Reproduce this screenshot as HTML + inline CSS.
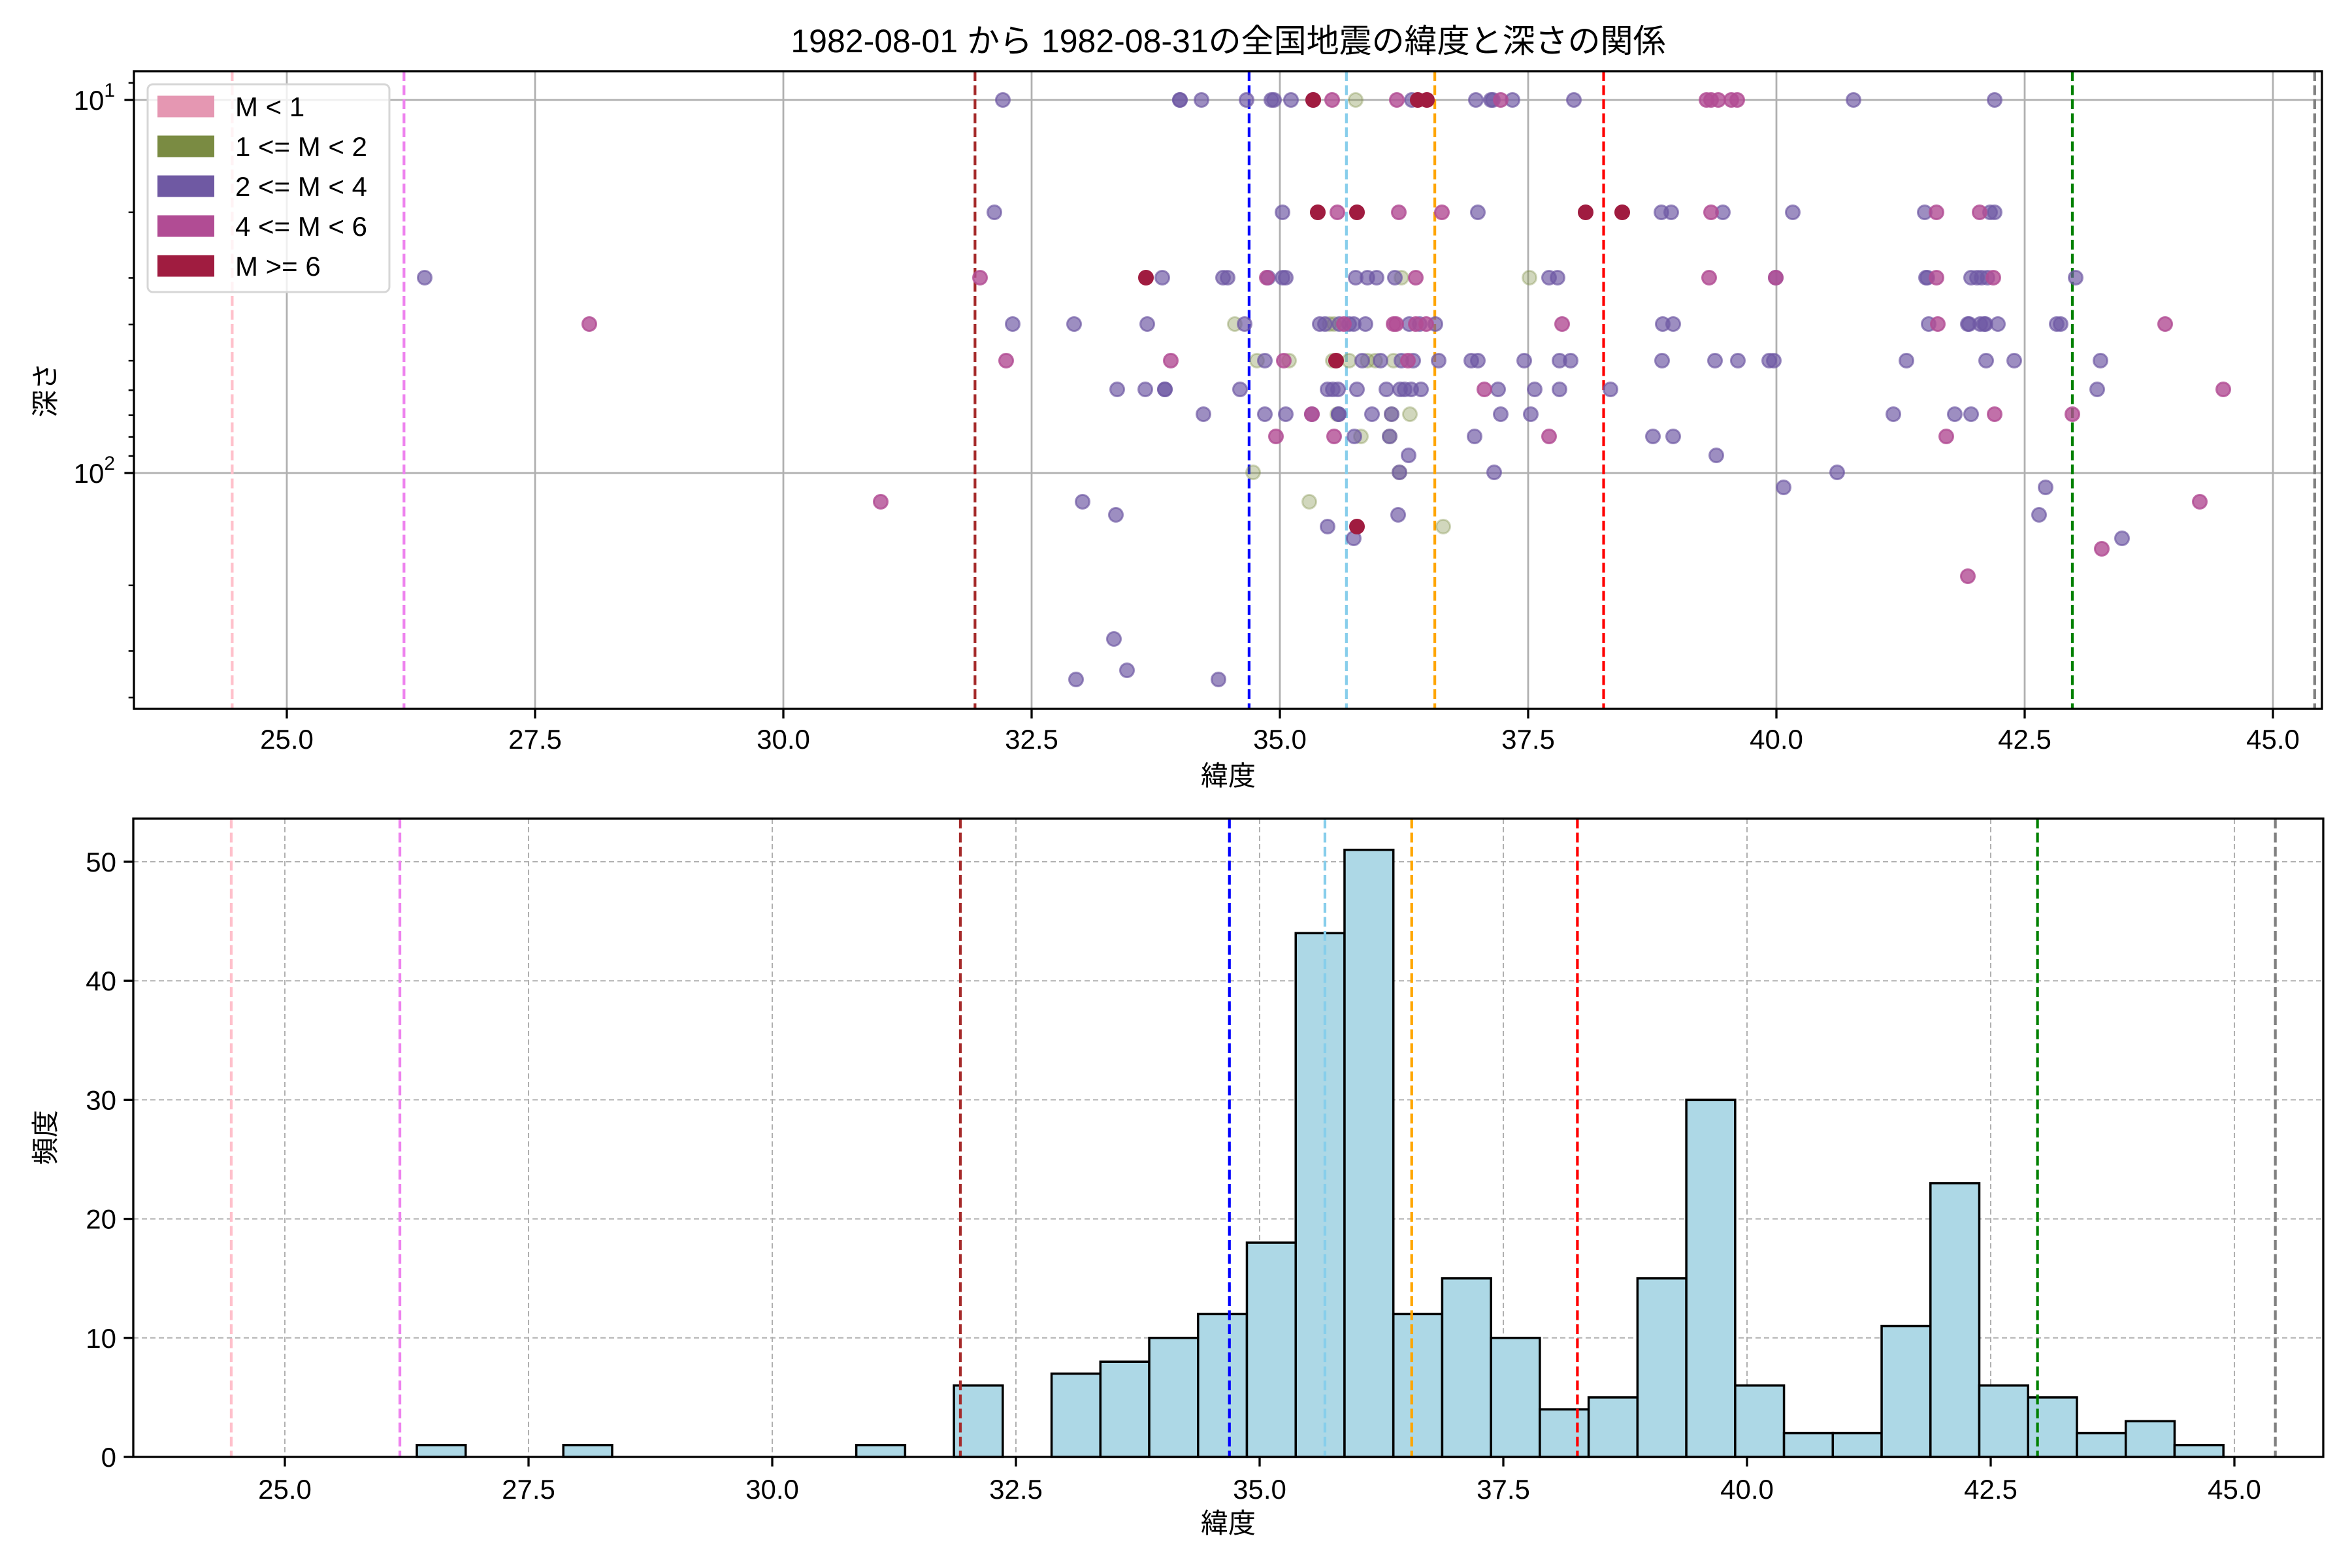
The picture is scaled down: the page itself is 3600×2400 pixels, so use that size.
<!DOCTYPE html>
<html><head><meta charset="utf-8"><style>
html,body{margin:0;padding:0;background:#fff;}
svg{display:block;}
text{font-family:"Liberation Sans","Noto Sans CJK JP",sans-serif;fill:#000;}
</style></head><body>
<svg id="s" width="3600" height="2400" viewBox="0 0 3600 2400" xmlns="http://www.w3.org/2000/svg">
<rect width="3600" height="2400" fill="#fff"/>
<text x="1880" y="80" font-size="50" text-anchor="middle">1982-08-01 から 1982-08-31の全国地震の緯度と深さの関係</text>
<g id="gtop"></g>
<g id="gbot"></g>
</svg>
<script>
(function(){
const NS="http://www.w3.org/2000/svg";
function el(p,t,a,txt){const e=document.createElementNS(NS,t);for(const k in a)e.setAttribute(k,a[k]);if(txt!==undefined)e.textContent=txt;p.appendChild(e);return e;}
const gT=document.getElementById('gtop'),gB=document.getElementById('gbot');
const TL=205,TR=3554,TT=109,TB=1085;
const TX=l=>439+(l-25)*152;
const TY=d=>153+(Math.log10(d)-1)*571;
for(let v=25;v<=45;v+=2.5){el(gT,'line',{x1:TX(v),x2:TX(v),y1:TT,y2:TB,stroke:'#b0b0b0','stroke-width':2.8});}
[10,100].forEach(d=>el(gT,'line',{x1:TL,x2:TR,y1:TY(d),y2:TY(d),stroke:'#b0b0b0','stroke-width':2.8}));
const vl=[[24.45,'pink'],[26.18,'violet'],[31.93,'#a52a2a'],[34.69,'blue'],[35.67,'skyblue'],[36.56,'orange'],[38.26,'red'],[42.98,'green'],[45.42,'gray']];
vl.forEach(v=>el(gT,'line',{x1:TX(v[0]),x2:TX(v[0]),y1:TT,y2:TB,stroke:v[1],'stroke-width':4.2,'stroke-dasharray':'15,6.5'}));
const R={10:153,20:325,30:425,40:496,50:552,60:596,70:634,80:668,90:697,100:723};
const P=[];
function add(y,s){s.split(',').forEach(t=>{t=t.trim();P.push([parseFloat(t),y,t.slice(-1)]);});}
add(R[10],'1535p,1806p,1806p,1839p,1908p,1946p,1950p,1976p,2010p,2010c,2039m,2075o,2138m,2161p,2170c,2184c,2259p,2282p,2285p,2297m,2315p,2409p,2612m,2619m,2630m,2650m,2659m,2837p,3053p');
add(R[20],'1522p,1963p,2017o,2017c,2047m,2077c,2141m,2207m,2262p,2427c,2483c,2543p,2558p,2619m,2637p,2744p,2946p,2964m,3030m,3046p,3053p');
add(R[30],'650p,1500m,1754c,1779p,1872p,1879p,1939m,1941p,1963p,1968p,2075p,2093p,2107p,2135p,2145o,2167m,2341o,2371p,2384p,2616m,2718p,2718m,2948p,2950p,2964m,3017p,3026p,3033p,3042p,3051m,3177p');
add(R[40],'902m,1550p,1644p,1756p,1890o,1905p,2020p,2028p,2035o,2042o,2050p,2057m,2065p,2072p,2090p,2133m,2137m,2157p,2167m,2173p,2183m,2197p,2391m,2545p,2561p,2952p,2966m,3012p,3014p,3031p,3037p,3039p,3058p,3148p,3154p,3314m');
add(R[50],'1540m,1792m,1924o,1936p,1965m,1973o,2040o,2045c,2065o,2085p,2093o,2105o,2113p,2133o,2145p,2155m,2163p,2202p,2252p,2262p,2333p,2387p,2404p,2544p,2625p,2660p,2708p,2715p,2918p,3040p,3083p,3215p');
add(R[60],'1710p,1753p,1783p,1783p,1898p,2032p,2040p,2048p,2077p,2122p,2143p,2150p,2160p,2175p,2272m,2293p,2349p,2387p,2465p,3210p,3403m');
add(R[70],'1842p,1936p,1968p,2008p,2008m,2047o,2049p,2049p,2100p,2130o,2130p,2158o,2297p,2343p,2898p,2992p,3017p,3053m,3172m');
add(R[80],'1953m,2042m,2073p,2083o,2127p,2127o,2257p,2371m,2530p,2561p,2979m');
add(R[90],'2156p,2627p');
add(R[100],'1918o,2142p,2142o,2287p,2812p');
add(746,'2730p,3131p');
add(768,'1348m,1657p,2004o,3367m');
add(788,'1708p,2140p,3121p');
add(806,'2032p,2077c,2209o');
add(824,'2072p,3248p');
add(840,'3217m');
add(882,'3012m');
add(978,'1705p');add(1026,'1725p');add(1040,'1647p,1865p');
const C={o:['#7a8b42',0.35],p:['#6f59a3',0.68],m:['#b14c94',0.8],c:['#a01c40',1]};
const ord={o:0,p:1,m:2,c:3};
P.sort((a,b)=>ord[a[2]]-ord[b[2]]);
P.forEach(p=>{const c=C[p[2]];el(gT,'circle',{cx:p[0],cy:p[1],r:10.5,fill:c[0],'fill-opacity':c[1],stroke:c[0],'stroke-opacity':c[1],'stroke-width':3});});
el(gT,'rect',{x:TL,y:TT,width:TR-TL,height:TB-TT,fill:'none',stroke:'#000','stroke-width':3.3});
for(let v=25;v<=45;v+=2.5){const x=TX(v);el(gT,'line',{x1:x,x2:x,y1:TB,y2:TB+14.6,stroke:'#000','stroke-width':3.3});el(gT,'text',{x:x,y:1146,'font-size':42,'text-anchor':'middle'},v.toFixed(1));}
[10,100].forEach(d=>{const y=TY(d);el(gT,'line',{x1:TL-14.6,x2:TL,y1:y,y2:y,stroke:'#000','stroke-width':3.3});
 const t=el(gT,'text',{x:176,y:y+15,'font-size':42,'text-anchor':'end'});
 const a=document.createElementNS(NS,'tspan');a.textContent='10';t.appendChild(a);
 const b=document.createElementNS(NS,'tspan');b.setAttribute('dy','-20');b.setAttribute('font-size','30');b.textContent=d==10?'1':'2';t.appendChild(b);});
[9,20,30,40,50,60,70,80,90,200,300,400].forEach(d=>{const y=TY(d);el(gT,'line',{x1:TL-8.3,x2:TL,y1:y,y2:y,stroke:'#000','stroke-width':2.5});});
el(gT,'text',{x:1880,y:1202,'font-size':42,'text-anchor':'middle'},'緯度');
el(gT,'text',{x:0,y:0,'font-size':42,'text-anchor':'middle',transform:'translate(84,597) rotate(-90)'},'深さ');
el(gT,'rect',{x:226,y:129,width:370,height:318,rx:8,fill:'#fff','fill-opacity':0.8,stroke:'#d6d6d6','stroke-width':3});
const LG=[['#e597b2','M < 1'],['#7a8b42','1 <= M < 2'],['#6f59a3','2 <= M < 4'],['#b14c94','4 <= M < 6'],['#a01c40','M >= 6']];
LG.forEach((l,i)=>{const yc=163+i*61;el(gT,'rect',{x:241,y:yc-16.5,width:87,height:33,fill:l[0]});el(gT,'text',{x:360,y:yc+15,'font-size':42},l[1]);});
const BL=204,BR=3556,BT=1253,BB=2230;
const BX=l=>436+(l-25)*149.2;
const BY=v=>BB-v*18.22;
for(let v=25;v<=45;v+=2.5){el(gB,'line',{x1:BX(v),x2:BX(v),y1:BT,y2:BB,stroke:'#b0b0b0','stroke-width':2,'stroke-dasharray':'8,5'});}
for(let v=10;v<=50;v+=10){el(gB,'line',{x1:BL,x2:BR,y1:BY(v),y2:BY(v),stroke:'#b0b0b0','stroke-width':2,'stroke-dasharray':'8,5'});}
const H=[1,0,0,1,0,0,0,0,0,1,0,6,0,7,8,10,12,18,44,51,12,15,10,4,5,15,30,6,2,2,11,23,6,5,2,3,1];
const w=0.5009;
H.forEach((h,i)=>{if(!h)return;const x0=BX(26.354+i*w),x1=BX(26.354+(i+1)*w);el(gB,'rect',{x:x0,y:BY(h),width:x1-x0,height:h*18.22,fill:'#add8e6',stroke:'#000','stroke-width':3.5});});
vl.forEach(v=>el(gB,'line',{x1:BX(v[0]),x2:BX(v[0]),y1:BT,y2:BB,stroke:v[1],'stroke-width':4.2,'stroke-dasharray':'15,6.5'}));
el(gB,'rect',{x:BL,y:BT,width:BR-BL,height:BB-BT,fill:'none',stroke:'#000','stroke-width':3.3});
for(let v=25;v<=45;v+=2.5){const x=BX(v);el(gB,'line',{x1:x,x2:x,y1:BB,y2:BB+14.6,stroke:'#000','stroke-width':3.3});el(gB,'text',{x:x,y:2294,'font-size':42,'text-anchor':'middle'},v.toFixed(1));}
for(let v=0;v<=50;v+=10){const y=BY(v);el(gB,'line',{x1:BL-14.6,x2:BL,y1:y,y2:y,stroke:'#000','stroke-width':3.3});el(gB,'text',{x:178,y:y+15,'font-size':42,'text-anchor':'end'},String(v));}
el(gB,'text',{x:1880,y:2346,'font-size':42,'text-anchor':'middle'},'緯度');
el(gB,'text',{x:0,y:0,'font-size':42,'text-anchor':'middle',transform:'translate(84,1741) rotate(-90)'},'頻度');
})();
</script>
</body></html>
